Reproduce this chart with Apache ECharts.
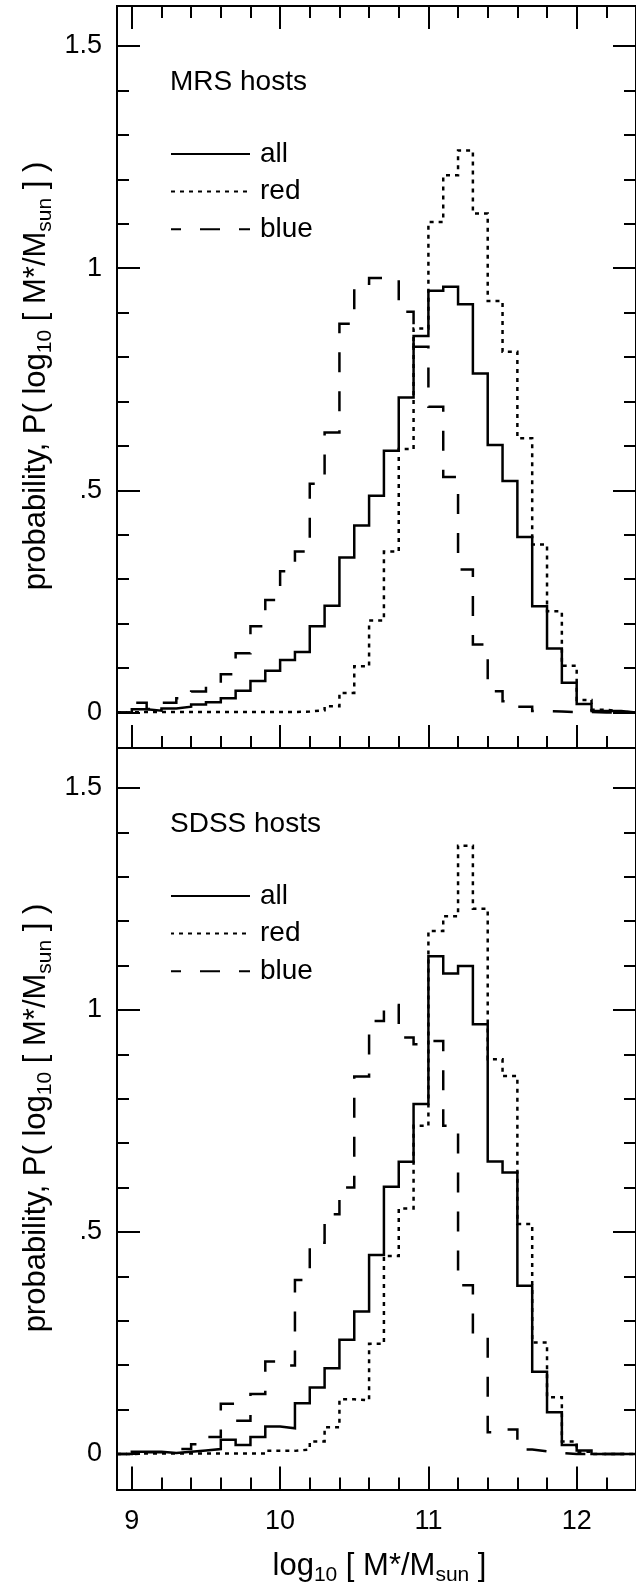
<!DOCTYPE html>
<html><head><meta charset="utf-8">
<script src="https://cdn.jsdelivr.net/npm/echarts@6/dist/echarts.min.js"></script>
<style>html,body{margin:0;padding:0;background:#fff}#c{width:636px;height:1589px}</style>
</head><body><div id="c"></div>
<script>
// ---- data ----
const binEdges = [8.9, 9.0, 9.1, 9.2, 9.3, 9.4, 9.5, 9.6, 9.7, 9.8, 9.9, 10.0, 10.1, 10.2, 10.3, 10.4, 10.5, 10.6, 10.7, 10.8, 10.9, 11.0, 11.1, 11.2, 11.3, 11.4, 11.5, 11.6, 11.7, 11.8, 11.9, 12.0, 12.1, 12.2, 12.3];
const binEnd = 12.4;

const mrsAll  = [0, 0.007, 0.004, 0.009, 0.013, 0.018, 0.023, 0.032, 0.049, 0.071, 0.094, 0.118, 0.136, 0.194, 0.240, 0.349, 0.421, 0.488, 0.589, 0.709, 0.847, 0.949, 0.958, 0.919, 0.763, 0.602, 0.521, 0.395, 0.239, 0.144, 0.067, 0.019, 0.003, 0.003, 0];
const mrsRed  = [0, 0.001, 0.001, 0.001, 0.001, 0.001, 0.001, 0.001, 0.001, 0.001, 0.001, 0.001, 0.002, 0.005, 0.014, 0.044, 0.104, 0.207, 0.362, 0.593, 0.864, 1.104, 1.209, 1.265, 1.123, 0.926, 0.812, 0.617, 0.378, 0.228, 0.105, 0.028, 0.006, 0.002, 0];
const mrsBlue = [0, 0.022, 0.008, 0.022, 0.032, 0.047, 0.059, 0.086, 0.133, 0.194, 0.253, 0.318, 0.362, 0.515, 0.630, 0.875, 0.965, 0.978, 0.978, 0.902, 0.823, 0.688, 0.530, 0.322, 0.153, 0.048, 0.025, 0.013, 0.003, 0.002, 0.001, 0.001, 0, 0, 0];

const sdssAll  = [0, 0.005, 0.005, 0.002, 0.005, 0.008, 0.011, 0.032, 0.020, 0.038, 0.062, 0.058, 0.114, 0.150, 0.193, 0.257, 0.321, 0.448, 0.602, 0.658, 0.788, 1.121, 1.082, 1.099, 0.968, 0.659, 0.634, 0.379, 0.185, 0.094, 0.020, 0.008, 0, 0, 0];
const sdssRed  = [0, 0.001, 0.001, 0.001, 0.001, 0.001, 0.001, 0.001, 0.001, 0.001, 0.007, 0.007, 0.010, 0.028, 0.060, 0.123, 0.121, 0.248, 0.446, 0.553, 0.739, 1.178, 1.211, 1.370, 1.228, 0.889, 0.851, 0.518, 0.251, 0.128, 0.028, 0.005, 0, 0, 0];
const sdssBlue = [0, 0.004, 0.004, 0.003, 0.011, 0.022, 0.038, 0.113, 0.075, 0.135, 0.208, 0.199, 0.392, 0.476, 0.540, 0.600, 0.850, 0.975, 1.011, 0.938, 0.923, 0.930, 0.739, 0.380, 0.270, 0.049, 0.055, 0.010, 0.006, 0.002, 0, 0, 0, 0, 0];

const seriesNames = ['all', 'red', 'blue'];
const panelNames = ['MRS hosts', 'SDSS hosts'];
const panelData = [[mrsAll, mrsRed, mrsBlue], [sdssAll, sdssRed, sdssBlue]];

const xMajorTicks = [9, 10, 11, 12];
const xMinorTicks = [9.2, 9.4, 9.6, 9.8, 10.2, 10.4, 10.6, 10.8, 11.2, 11.4, 11.6, 11.8, 12.2];
const yMajorTicks = [0, 0.5, 1, 1.5];
const yTickLabels = ['0', '.5', '1', '1.5'];
const yMinorTicks = [0.1, 0.2, 0.3, 0.4, 0.6, 0.7, 0.8, 0.9, 1.1, 1.2, 1.3, 1.4];

// ---- styling ----
const FONT = 'Liberation Sans';
const X_MIN = 8.9, X_MAX = 12.4, Y_MIN = -0.08, Y_MAX = 1.59;
const PANEL_H = 742;
const grids = [
  {left: 117, top: 6, width: 525, height: PANEL_H},
  {left: 117, top: 6 + PANEL_H, width: 525, height: PANEL_H - 0.5}
];
const lineStyles = [
  {type: 'solid'},
  {type: [4, 5]},
  {type: [20, 19], dashOffset: 10}
];

function xAx(g, pos, ticks, len, showLabel, showTicks) {
  return {
    type: 'value', gridIndex: g, position: pos, min: X_MIN, max: X_MAX,
    axisLine: {show: true, onZero: false, lineStyle: {color: '#000', width: 2}},
    axisTick: {show: showTicks, inside: true, length: len, customValues: ticks, lineStyle: {color: '#000', width: 2}},
    axisLabel: {show: showLabel, customValues: ticks, margin: 19, color: '#000', fontSize: 27, fontFamily: FONT},
    splitLine: {show: false}
  };
}
function yAx(g, pos, ticks, len, showLabel) {
  return {
    type: 'value', gridIndex: g, position: pos, min: Y_MIN, max: Y_MAX,
    axisLine: {show: true, onZero: false, lineStyle: {color: '#000', width: 2}},
    axisTick: {show: true, inside: true, length: len, customValues: ticks, lineStyle: {color: '#000', width: 2}},
    axisLabel: {show: showLabel, customValues: ticks, margin: 15, color: '#000', fontSize: 27, fontFamily: FONT,
      formatter: v => { const i = yMajorTicks.findIndex(t => Math.abs(t - v) < 1e-9); return i >= 0 ? yTickLabels[i] : ''; }},
    splitLine: {show: false}
  };
}

const xAxes = [], yAxes = [], series = [];
[0, 1].forEach(g => {
  xAxes.push(xAx(g, 'bottom', xMajorTicks, 23, g === 1, true));
  xAxes.push(xAx(g, 'bottom', xMinorTicks, 12, false, true));
  xAxes.push(xAx(g, 'top', xMajorTicks, 23, false, g === 0));
  xAxes.push(xAx(g, 'top', xMinorTicks, 12, false, g === 0));
  yAxes.push(yAx(g, 'left', yMajorTicks, 23, true));
  yAxes.push(yAx(g, 'left', yMinorTicks, 12, false));
  yAxes.push(yAx(g, 'right', yMajorTicks, 23, false));
  yAxes.push(yAx(g, 'right', yMinorTicks, 12, false));
  panelData[g].forEach((vals, k) => {
    const pts = binEdges.map((e, i) => [e, vals[i]]);
    pts.push([binEnd, vals[vals.length - 1]]);
    series.push({
      type: 'line', name: seriesNames[k], xAxisIndex: 4 * g, yAxisIndex: 4 * g,
      step: 'end', symbol: 'none', showSymbol: false, data: pts, animation: false, silent: true,
      itemStyle: {color: '#000', opacity: 0},
      lineStyle: Object.assign({color: '#000', width: 2.5, cap: 'butt', join: 'miter'}, lineStyles[k])
    });
  });
});

const rich = {
  a: {fontSize: 31, fontFamily: FONT, lineHeight: 40, fill: '#000', color: '#000'},
  s: {fontSize: 21, fontFamily: FONT, lineHeight: 17, verticalAlign: 'bottom', fill: '#000', color: '#000'}
};
const yTitle = '{a|probability, P( log}{s|10}{a| [ M*/M}{s|sun}{a| ] )}';
const xTitle = '{a|log}{s|10}{a| [ M*/M}{s|sun}{a| ]}';

const graphic = [
  {type: 'text', x: 379.5, y: 1566, style: {text: xTitle, rich: rich, align: 'center', verticalAlign: 'middle', fill: '#000'}},
  {type: 'text', x: 36, y: 376, rotation: Math.PI / 2, style: {text: yTitle, rich: rich, align: 'center', verticalAlign: 'middle', fill: '#000'}},
  {type: 'text', x: 36, y: 376 + PANEL_H, rotation: Math.PI / 2, style: {text: yTitle, rich: rich, align: 'center', verticalAlign: 'middle', fill: '#000'}}
];

const chart = echarts.init(document.getElementById('c'), null, {renderer: 'canvas'});
chart.setOption({
  backgroundColor: '#fff',
  animation: false,
  grid: grids,
  xAxis: xAxes,
  yAxis: yAxes,
  series: series,
  title: panelNames.map((t, g) => ({text: t, left: 170, top: 68 + PANEL_H * g, padding: 0,
    textStyle: {fontSize: 28, fontWeight: 'normal', fontFamily: FONT, color: '#000'}})),
  legend: [0, 1].map(g => ({
    orient: 'vertical', left: 170, top: 140 + PANEL_H * g, padding: 0,
    itemWidth: 79, itemHeight: 14, itemGap: 9.6, selectedMode: false,
    data: seriesNames,
    itemStyle: {opacity: 0},
    textStyle: {fontSize: 28, fontFamily: FONT, color: '#000', padding: [0, 0, 0, 5]}
  })),
  graphic: graphic
});
</script></body></html>
